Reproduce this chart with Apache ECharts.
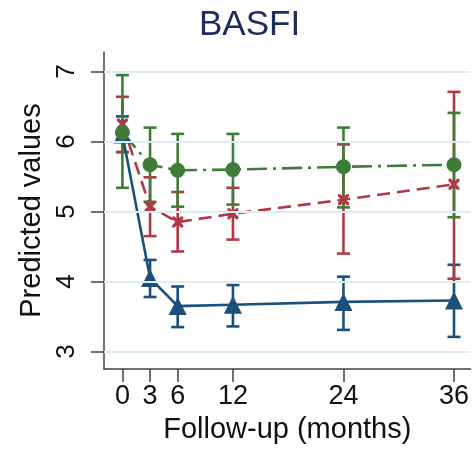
<!DOCTYPE html>
<html>
<head>
<meta charset="utf-8">
<script src="https://cdn.jsdelivr.net/npm/echarts@6/dist/echarts.min.js"></script>
<style>
  html, body { margin: 0; padding: 0; background: #fff; }
  #chart { width: 472px; height: 449px; }
</style>
</head>
<body>
<div id="chart"></div>
<script>
// Follow-up time points (months) and tick labels
const months = [0, 3, 6, 12, 24, 36];
const xTicks = [0, 3, 6, 12, 24, 36];
const yTicks = [3, 4, 5, 6, 7];

// Predicted BASFI with 95% CI, one group per colour
const blueMean = [6.10, 4.05, 3.65, 3.67, 3.71, 3.73];
const blueLow  = [5.85, 3.78, 3.35, 3.36, 3.31, 3.21];
const blueHigh = [6.36, 4.31, 3.93, 3.95, 4.07, 4.24];

const redMean = [6.25, 5.07, 4.85, 4.97, 5.17, 5.39];
const redLow  = [5.85, 4.65, 4.43, 4.60, 4.40, 4.04];
const redHigh = [6.64, 5.49, 5.28, 5.34, 5.96, 6.71];

const greenMean = [6.13, 5.67, 5.59, 5.60, 5.64, 5.67];
const greenLow  = [5.34, 5.14, 5.07, 5.10, 5.06, 4.92];
const greenHigh = [6.95, 6.20, 6.11, 6.11, 6.20, 6.41];

const BLUE = '#1b4f7c';
const RED = '#b13844';
const GREEN = '#3e7d38';
const FONT = '"Liberation Sans", Arial, sans-serif';

const chart = echarts.init(document.getElementById('chart'), null, { renderer: 'canvas' });

// Vertical CI bar with caps at both ends
function ciSeries(color, low, high) {
  return {
    type: 'custom',
    silent: true,
    z: 2,
    data: months.map((m, i) => [m, low[i], high[i]]),
    encode: { x: 0, y: [1, 2] },
    renderItem: function (params, api) {
      const x = api.value(0);
      const lo = api.coord([x, api.value(1)]);
      const hi = api.coord([x, api.value(2)]);
      const half = 6.5;
      const st = { stroke: color, lineWidth: 2.6 };
      return {
        type: 'group',
        children: [
          { type: 'line', shape: { x1: lo[0], y1: lo[1], x2: hi[0], y2: hi[1] }, style: st },
          { type: 'line', shape: { x1: lo[0] - half, y1: lo[1], x2: lo[0] + half, y2: lo[1] }, style: st },
          { type: 'line', shape: { x1: hi[0] - half, y1: hi[1], x2: hi[0] + half, y2: hi[1] }, style: st }
        ]
      };
    }
  };
}

function lineSeries(color, mean, symbol, size, dash) {
  return {
    type: 'line',
    z: 3,
    data: months.map((m, i) => [m, mean[i]]),
    symbol: symbol,
    symbolSize: size,
    showAllSymbol: true,
    lineStyle: { color: color, width: 2.6, type: dash },
    itemStyle: { color: color, borderWidth: 0 },
    emphasis: { disabled: true },
    animation: false
  };
}

const crossPath = 'path://M0,0L2.2,0L5,2.8L7.8,0L10,0L10,2.2L7.2,5L10,7.8L10,10L7.8,10L5,7.2L2.2,10L0,10L0,7.8L2.8,5L0,2.2Z';

// Horizontal reference lines at each y tick
const gridLines = {
  type: 'line',
  data: [],
  silent: true,
  z: 1,
  markLine: {
    silent: true,
    symbol: 'none',
    label: { show: false },
    animation: false,
    lineStyle: { color: '#ddecf3', width: 2, type: 'solid' },
    data: yTicks.map(v => ({ yAxis: v }))
  }
};

chart.setOption({
  animation: false,
  backgroundColor: '#ffffff',
  title: {
    text: 'BASFI',
    left: 194,
    top: 3,
    textStyle: { fontFamily: FONT, fontSize: 35, fontWeight: 'normal', color: '#1e2d5c' }
  },
  grid: { left: 104, right: 0, top: 52, bottom: 79 },
  xAxis: {
    type: 'value',
    min: -2,
    max: 37.8,
    name: 'Follow-up (months)',
    nameLocation: 'middle',
    nameGap: 34,
    nameTextStyle: { fontFamily: FONT, fontSize: 29, color: '#111' },
    axisLine: { show: true, onZero: false, lineStyle: { color: '#444', width: 1.5 } },
    axisTick: { show: true, length: 13, customValues: xTicks, lineStyle: { color: '#444', width: 1.5 } },
    axisLabel: { customValues: xTicks, margin: 14, fontFamily: FONT, fontSize: 27, color: '#111' },
    splitLine: { show: false }
  },
  yAxis: {
    type: 'value',
    min: 2.75,
    max: 7.28,
    name: 'Predicted values',
    nameLocation: 'middle',
    nameGap: 56,
    nameTextStyle: { fontFamily: FONT, fontSize: 29, color: '#111' },
    axisLine: { show: true, onZero: false, lineStyle: { color: '#444', width: 1.5 } },
    axisTick: { show: true, length: 13, customValues: yTicks, lineStyle: { color: '#444', width: 1.5 } },
    axisLabel: { customValues: yTicks, rotate: 90, margin: 24, fontFamily: FONT, fontSize: 26, color: '#111' },
    splitLine: { show: false }
  },
  series: [
    gridLines,
    ciSeries(BLUE, blueLow, blueHigh),
    ciSeries(RED, redLow, redHigh),
    ciSeries(GREEN, greenLow, greenHigh),
    lineSeries(BLUE, blueMean, 'triangle', 18, 'solid'),
    lineSeries(RED, redMean, crossPath, 11, [13, 7]),
    lineSeries(GREEN, greenMean, 'circle', 15, [20, 6, 3, 6])
  ]
});
</script>
</body>
</html>
